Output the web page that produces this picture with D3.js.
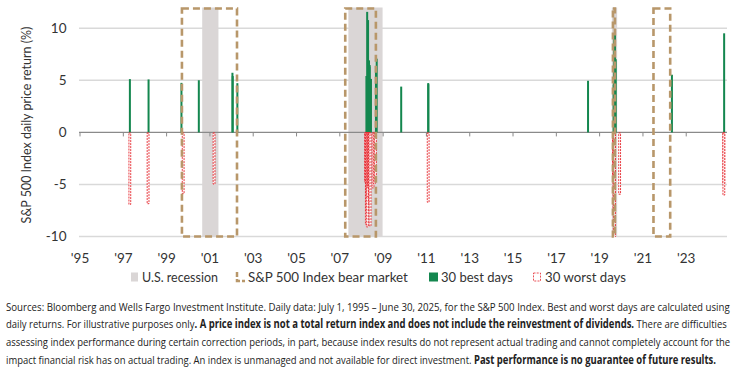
<!DOCTYPE html>
<html><head><meta charset="utf-8">
<script src="https://cdn.jsdelivr.net/npm/d3@7"></script>
<style>
html,body{margin:0;padding:0;background:#fff;}
svg{display:block;}
</style></head>
<body>
<svg id="c" width="739" height="370"></svg>
<script>
// ---- data ----
const bestDates = ["1997-10-28","1998-09-08","2000-03-16","2001-01-03","2002-07-24","2002-07-29","2002-10-15",
  "2008-09-30","2008-10-13","2008-10-20","2008-10-28","2008-11-13","2008-11-21","2008-11-24","2008-12-16",
  "2009-03-10","2009-03-23","2010-05-10","2011-08-09","2011-08-11","2018-12-26",
  "2020-03-02","2020-03-10","2020-03-13","2020-03-17","2020-03-24","2020-03-26","2020-04-06",
  "2022-11-10","2025-04-09"];
const bestValues = [5.12,5.09,4.76,5.01,5.73,5.41,4.73,
  5.42,11.58,4.77,10.79,6.92,6.32,6.47,5.14,
  6.37,7.08,4.40,4.74,4.63,4.96,
  4.60,4.94,9.29,6.00,9.38,6.24,7.03,
  5.54,9.52];
const worstDates = ["1997-10-27","1998-08-31","2000-04-14","2001-09-17",
  "2008-09-15","2008-09-17","2008-09-29","2008-10-07","2008-10-09","2008-10-15","2008-10-22",
  "2008-11-05","2008-11-06","2008-11-12","2008-11-19","2008-11-20","2008-12-01",
  "2009-01-20","2009-02-10","2009-03-02","2011-08-08",
  "2020-02-27","2020-03-09","2020-03-11","2020-03-12","2020-03-16","2020-03-18","2020-06-11",
  "2025-04-03","2025-04-04"];
const worstValues = [-6.87,-6.80,-5.83,-4.92,
  -4.71,-4.71,-8.79,-5.74,-7.62,-9.03,-6.10,
  -5.27,-5.03,-5.19,-6.12,-6.71,-8.93,
  -5.28,-4.91,-4.66,-6.66,
  -4.42,-7.60,-4.89,-9.51,-11.98,-5.18,-5.89,
  -4.84,-5.97];
const recessionStarts = ["2001-03-01","2007-12-01","2020-02-01"];
const recessionEnds   = ["2001-11-30","2009-06-30","2020-04-30"];
const bearStarts = ["2000-03-24","2007-10-09","2020-02-19","2022-01-03"];
const bearEnds   = ["2002-10-09","2009-03-09","2020-03-23","2022-10-12"];
const yTicks = [-10,-5,0,5,10];
const xTickYears = [1995,1997,1999,2001,2003,2005,2007,2009,2011,2013,2015,2017,2019,2021,2023];
const xTickLabels = ["'95","'97","'99","'01","'03","'05","'07","'09","'11","'13","'15","'17","'19","'21","'23"];
const yTitle = "S&P 500 Index daily price return (%)";
const legendLabels = ["U.S. recession","S&P 500 Index bear market","30 best days","30 worst days"];
const footLines = [
  [["Sources: Bloomberg and Wells Fargo Investment Institute. Daily data: July 1, 1995 \u2013 June 30, 2025, for the S&P 500 Index. Best and worst days are calculated using",false]],
  [["daily returns. For illustrative purposes only",false],[". A price index is not a total return index and does not include the reinvestment of dividends.",true],[" There are difficulties",false]],
  [["assessing index performance during certain correction periods, in part, because index results do not represent actual trading and cannot completely account for the",false]],
  [["impact financial risk has on actual trading. An index is unmanaged and not available for direct investment. ",false],["Past performance is no guarantee of future results.",true]]
];

// ---- drawing ----
const svg = d3.select("#c");
const P = d => d3.utcParse("%Y-%m-%d")(d);
const x = d3.scaleUtc().domain([P("1995-07-01"), P("2025-06-30")]).range([79.5, 729]);
const y = d3.scaleLinear().domain([-10, 12]).range([236.5, 7.5]);
const GREEN = "#14874f", RED = "#e5262d", TAN = "#b8976a", GRAY = "#dad6d6";
const font = "Lato, 'Open Sans', sans-serif";

// fit a text element horizontally to a target width by scaling
function fit(sel, x0, y0, w) {
  const n = sel.node();
  const nat = n.getComputedTextLength ? n.getComputedTextLength() : n.getBBox().width;
  const s = w / nat;
  sel.attr("x", null).attr("y", null).attr("transform", `translate(${x0},${y0}) scale(${s},1)`);
}

svg.append("defs").append("clipPath").attr("id","plot")
  .append("rect").attr("x",70).attr("y",y(12)).attr("width",670).attr("height",y(-10)-y(12)+0.5);

// gridlines
svg.append("g").selectAll("line").data(yTicks.filter(v=>v!==0)).join("line")
  .attr("x1",79).attr("x2",727).attr("y1",d=>y(d)).attr("y2",d=>y(d))
  .attr("stroke","#d9d9d9").attr("stroke-width",1.5);

// recessions
svg.append("g").selectAll("rect").data(recessionStarts).join("rect")
  .attr("x",(d,i)=>x(P(d))).attr("width",(d,i)=>x(P(recessionEnds[i]))-x(P(d)))
  .attr("y",y(12)).attr("height",y(-10)-y(12)).attr("fill",GRAY);

// zero axis
const tickDates = xTickYears.map(yr=>new Date(Date.UTC(yr,6,1)));
const xAxis = d3.axisBottom(x).tickValues(tickDates).tickFormat((d,i)=>xTickLabels[i]).tickSize(4).tickSizeOuter(0);
const gx = svg.append("g").attr("transform",`translate(0,${y(0)})`).call(xAxis);
gx.select(".domain").attr("stroke","#8a8a8a").attr("stroke-width",1.2).attr("d",`M79,0H727`);
gx.selectAll(".tick line").attr("stroke","#8a8a8a");
gx.selectAll(".tick text").attr("y",y(-10)-y(0)+17).attr("font-family",font).attr("font-size",13.5).attr("fill","#333");

// y tick labels
svg.append("g").selectAll("text").data(yTicks).join("text")
  .attr("x",66.5).attr("y",d=>y(d)).attr("dy","0.35em").attr("text-anchor","end")
  .attr("font-family",font).attr("font-size",13.5).attr("fill","#333").text(d=>d);

// y title
svg.append("text").attr("transform","translate(31,125) rotate(-90)").attr("text-anchor","middle")
  .attr("font-family",font).attr("font-size",12.5).attr("fill","#333").text(yTitle);

const plot = svg.append("g").attr("clip-path","url(#plot)");
// best bars
plot.append("g").selectAll("rect").data(bestDates).join("rect")
  .attr("x",d=>x(P(d))-1).attr("width",2)
  .attr("y",(d,i)=>y(bestValues[i])).attr("height",(d,i)=>y(0)-y(bestValues[i]))
  .attr("fill",GREEN);
// worst bars
plot.append("g").selectAll("rect").data(worstDates).join("rect")
  .attr("x",d=>x(P(d))-0.9).attr("width",1.8)
  .attr("y",y(0)+0.5).attr("height",(d,i)=>y(worstValues[i])-y(0))
  .attr("fill","#fff").attr("stroke",RED).attr("stroke-width",0.9).attr("stroke-dasharray","2,1");

// bear market boxes
svg.append("g").selectAll("rect").data(bearStarts).join("rect")
  .attr("x",d=>x(P(d))).attr("width",(d,i)=>Math.max(1,x(P(bearEnds[i]))-x(P(d))))
  .attr("y",y(12)+1).attr("height",y(-10)-y(12)-1)
  .attr("fill","none").attr("stroke",TAN).attr("stroke-width",2.6).attr("stroke-dasharray","7,4");

// legend
const lg = svg.append("g");
const ly = 277;
const legendX = [131, 236, 429, 533];
const textX = [142, 248, 441, 545];
const textW = [76, 160, 72, 81];
lg.append("rect").attr("x",legendX[0]).attr("y",ly-4.5).attr("width",7).attr("height",9).attr("fill",GRAY);
lg.append("path").attr("d",`M${legendX[1]+1},${ly-5}V${ly+4}H${legendX[1]+9}`).attr("fill","none").attr("stroke",TAN).attr("stroke-width",2.5).attr("stroke-dasharray","5,2");
lg.append("rect").attr("x",legendX[2]).attr("y",ly-4.5).attr("width",9).attr("height",9).attr("fill",GREEN);
lg.append("rect").attr("x",legendX[3]+0.5).attr("y",ly-4).attr("width",7).attr("height",8).attr("fill","#fff").attr("stroke",RED).attr("stroke-width",0.8).attr("stroke-dasharray","2,1.2");
legendLabels.forEach((d,i)=>{
  const t = lg.append("text").attr("dy","0.35em")
    .attr("font-family",font).attr("font-size",13.5).attr("fill","#333").text(d);
  fit(t, textX[i], ly, textW[i]);
});

// footnote
const fy = [310.7, 328.3, 345.9, 363.5];
const fw = [725, 722, 725, 711];
footLines.forEach((parts,i)=>{
  const t = svg.append("text").attr("font-family","'Open Sans', sans-serif")
    .attr("font-size",11.5).attr("fill","#222");
  parts.forEach(p=>{ t.append("tspan").attr("font-weight",p[1]?"bold":"normal").text(p[0]); });
  fit(t, 6, fy[i], fw[i]);
});
</script>
</body></html>
